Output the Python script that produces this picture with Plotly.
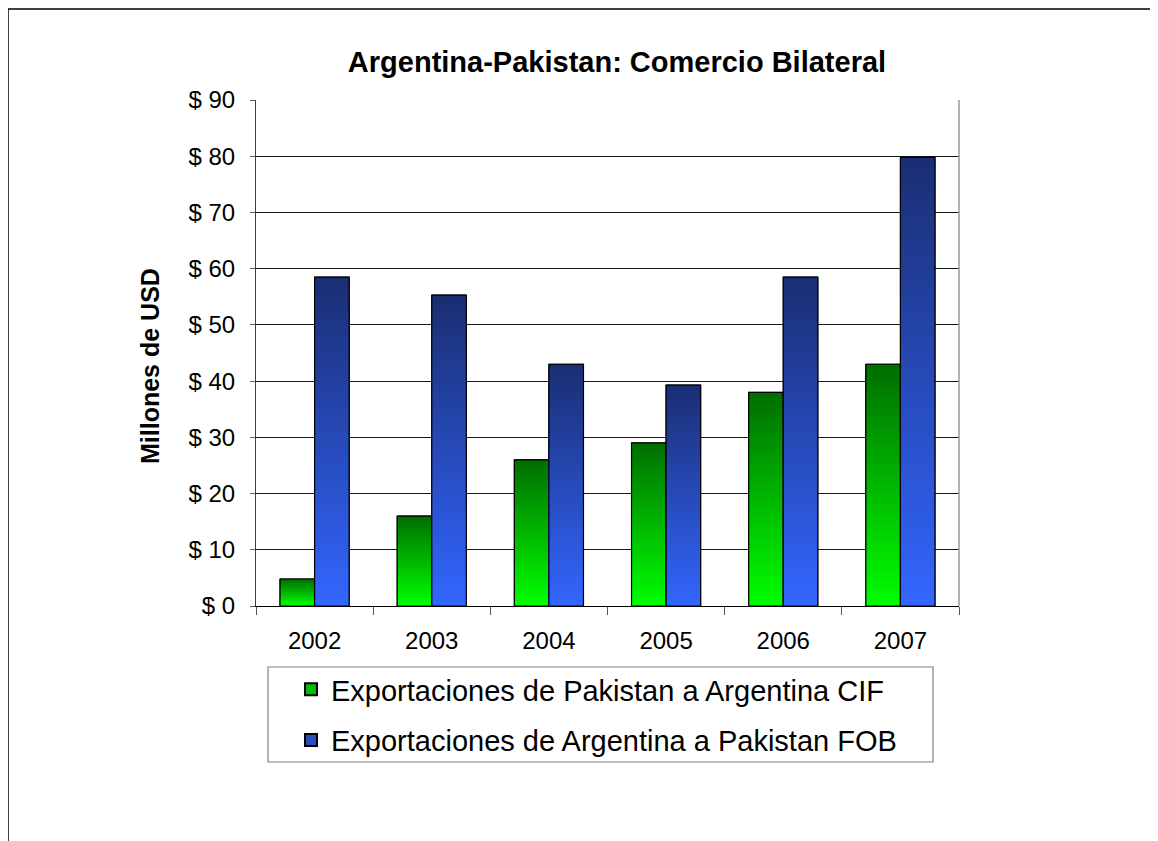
import plotly.graph_objects as go

years = ["2002", "2003", "2004", "2005", "2006", "2007"]
pak_to_arg_cif = [4.8, 16.0, 26.0, 29.0, 38.0, 43.0]
arg_to_pak_fob = [58.5, 55.3, 43.0, 39.3, 58.5, 79.8]
series_names = ["Exportaciones de Pakistan a Argentina CIF",
                "Exportaciones de Argentina a Pakistan FOB"]
y_ticks = [0, 10, 20, 30, 40, 50, 60, 70, 80, 90]
y_tick_labels = ["$ " + str(v) for v in y_ticks]

# gradient end colours (bottom, top)
green_grad = ((0, 255, 0), (0, 110, 0))
blue_grad = ((51, 102, 255), (26, 46, 115))

FONT = "Liberation Sans, Arial, sans-serif"
N = 60
BW = 0.295

# page body has an 8px margin: work in screen pixels and convert
OFF = 8
W, H = 1158 - OFF, 841 - OFF
PL, PR, PT, PB = 256, 959, 100, 606  # plot area, screen px
L, R, T, B = PL - OFF, W - (PR - OFF), PT - OFF, H - (PB - OFF)
PW, PH = PR - PL, PB - PT


def px(xs):
    return (xs - PL) / PW


def py(ys):
    return (PB - ys) / PH


def mix(grad, t):
    b, tp = grad
    c = [round(b[i] * (1 - t) + tp[i] * t) for i in range(3)]
    return f"rgb({c[0]},{c[1]},{c[2]})"


fig = go.Figure()

specs = [(pak_to_arg_cif, green_grad, -BW, series_names[0], "g"),
         (arg_to_pak_fob, blue_grad, 0.0, series_names[1], "b")]

for vals, grad, off, name, grp in specs:
    fig.add_trace(go.Bar(x=years, y=vals, offset=off, width=BW, name=name,
                         legendgroup=grp, showlegend=True,
                         marker=dict(color=mix(grad, 0.45),
                                     line=dict(color="black", width=1)),
                         hoverinfo="skip"))
    for k in range(N):
        frac = (N - k) / N
        t = (N - k - 0.5) / N
        fig.add_trace(go.Bar(x=years, y=[v * frac for v in vals], offset=off,
                             width=BW, showlegend=False, legendgroup=grp,
                             marker=dict(color=mix(grad, t), line=dict(width=0)),
                             hoverinfo="skip"))
    fig.add_trace(go.Bar(x=years, y=vals, offset=off, width=BW,
                         showlegend=False, legendgroup=grp,
                         marker=dict(color="rgba(0,0,0,0)",
                                     line=dict(color="black", width=1.2)),
                         hoverinfo="skip"))

fig.update_layout(
    width=W, height=H,
    barmode="overlay",
    paper_bgcolor="white", plot_bgcolor="white",
    margin=dict(l=L, r=R, t=T, b=B, autoexpand=False),
    font=dict(family=FONT, color="black"),
    title=dict(text="<b>Argentina-Pakistan: Comercio Bilateral</b>",
               font=dict(size=29, family=FONT, color="black"),
               x=(617 - OFF) / W, xanchor="center", xref="container",
               y=1 - (62 - OFF) / H, yanchor="middle", yref="container"),
    xaxis=dict(type="category", showline=True, linecolor="black", linewidth=1,
               ticks="outside", tickson="boundaries", ticklen=8,
               tickcolor="#555555", tickwidth=1,
               tickfont=dict(size=24, family=FONT, color="black"),
               ticklabelstandoff=13, showgrid=False, fixedrange=True),
    yaxis=dict(range=[0, 90], tickmode="array", tickvals=y_ticks,
               ticktext=y_tick_labels,
               showline=True, linecolor="#404040", linewidth=1,
               ticks="outside", ticklen=5, tickcolor="#666666",
               tickfont=dict(size=24, family=FONT, color="black"),
               ticklabelstandoff=10,
               showgrid=True, gridcolor="#1a1a1a", gridwidth=1,
               zeroline=False, fixedrange=True),
    legend=dict(x=px(291), xanchor="left", y=py(664), yanchor="top",
                orientation="v", borderwidth=0,
                bgcolor="rgba(0,0,0,0)", tracegroupgap=10,
                font=dict(size=29, family=FONT, color="black"),
                itemsizing="constant"),
    showlegend=True,
)

fig.add_annotation(text="<b>Millones de USD</b>", textangle=-90,
                   x=px(150), y=py(366), xref="paper", yref="paper",
                   xanchor="center", yanchor="middle",
                   showarrow=False, font=dict(size=25, family=FONT, color="black"))

# legend frame
fig.add_shape(type="rect", xref="paper", yref="paper",
              x0=px(268), x1=px(933), y0=py(667), y1=py(762),
              line=dict(color="#808080", width=1.2), fillcolor="rgba(0,0,0,0)")
# right border of plot area
fig.add_shape(type="line", xref="paper", yref="paper", x0=1, x1=1, y0=0, y1=1,
              line=dict(color="#999999", width=1.5))
# outer frame (top and left)
fig.add_shape(type="line", xref="paper", yref="paper",
              x0=px(8), x1=px(1158), y0=py(9), y1=py(9),
              line=dict(color="black", width=1.5))
fig.add_shape(type="line", xref="paper", yref="paper",
              x0=px(8), x1=px(8), y0=py(9), y1=py(841),
              line=dict(color="black", width=1.5))

fig.write_html("out.html")
